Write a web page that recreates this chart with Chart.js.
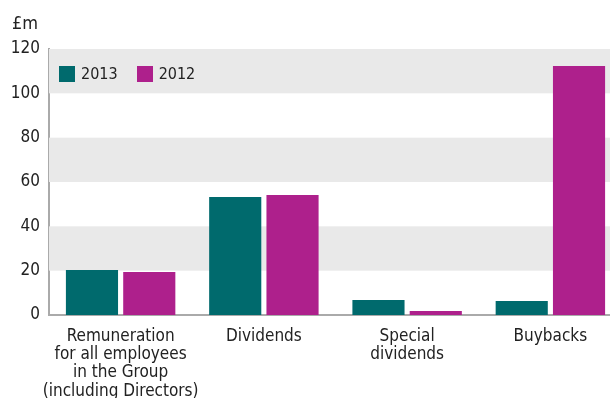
<!DOCTYPE html>
<html lang="en">
<head>
  <meta charset="UTF-8" />
  <title>Remuneration vs distributions</title>
  <script src="https://cdn.jsdelivr.net/npm/chart.js"></script>
  <style>
    body {
      margin: 0;
      background: #fff;
      overflow: hidden;
      font-family: 'DejaVu Sans Condensed', 'DejaVu Sans', sans-serif;
      color: #222;
    }
    .wrap {
      position: relative;
      width: 622px;
      height: 398px;
    }
    .unit {
      position: absolute;
      left: 12px;
      top: 12px;
      font-size: 18px;
    }
    .legend {
      position: absolute;
      left: 59px;
      top: 64px;
      display: flex;
      align-items: center;
      font-size: 16px;
    }
    .legend span.box {
      display: inline-block;
      width: 16px;
      height: 16px;
      margin-right: 6px;
    }
    .legend .item {
      display: flex;
      align-items: center;
      margin-right: 19px;
    }
  </style>
</head>
<body>
  <div class="wrap">
    <canvas id="chart" width="622" height="398"></canvas>
    <div class="unit">£m</div>
    <div class="legend" id="legend"></div>
  </div>

  <script>
    // data
    const categories = [
      ['Remuneration', 'for all employees', 'in the Group', '(including Directors)'],
      'Dividends',
      ['Special', 'dividends'],
      'Buybacks'
    ];
    const values2013 = [20.3, 53.2, 6.8, 6.3];
    const values2012 = [19.4, 54.1, 1.8, 112.3];
    const yTicks = [0, 20, 40, 60, 80, 100, 120];
    const shadedBands = [[20, 40], [60, 80], [100, 120]];

    const teal = '#006a6d';
    const magenta = '#ae208c';

    // grey stripes behind the bars
    const bandPlugin = {
      id: 'bands',
      beforeDatasetsDraw(chart) {
        const { ctx, chartArea, scales } = chart;
        ctx.save();
        ctx.fillStyle = '#e9e9e9';
        shadedBands.forEach(([lo, hi]) => {
          const top = scales.y.getPixelForValue(hi);
          const bottom = scales.y.getPixelForValue(lo);
          ctx.fillRect(chartArea.left, top, chartArea.right - chartArea.left, bottom - top);
        });
        ctx.restore();
      }
    };

    const fontFamily = "'DejaVu Sans Condensed', 'DejaVu Sans', sans-serif";

    const chart = new Chart(document.getElementById('chart'), {
      type: 'bar',
      data: {
        labels: categories,
        datasets: [
          { label: '2013', data: values2013, backgroundColor: teal },
          { label: '2012', data: values2012, backgroundColor: magenta }
        ]
      },
      options: {
        responsive: false,
        animation: false,
        layout: { padding: { top: 49, right: 0, left: 0, bottom: 0 } },
        datasets: { bar: { categoryPercentage: 0.8, barPercentage: 0.91 } },
        plugins: {
          legend: { display: false },
          tooltip: { enabled: false }
        },
        scales: {
          x: {
            grid: { display: false },
            border: { color: '#aaaaaa', width: 2 },
            ticks: {
              color: '#222',
              font: { family: fontFamily, size: 17, lineHeight: 1.08 },
              padding: 4,
              maxRotation: 0,
              autoSkip: false
            },
            afterFit(scale) { scale.height = 83; }
          },
          y: {
            min: 0,
            max: 120,
            grid: { display: false },
            border: { color: '#aaaaaa', width: 2 },
            afterBuildTicks(scale) { scale.ticks = yTicks.map(v => ({ value: v })); },
            ticks: { color: '#222', font: { family: fontFamily, size: 17 }, padding: 1 },
            afterFit(scale) { scale.width = 49; }
          }
        }
      },
      plugins: [bandPlugin]
    });

    // legend inside the plot
    const legend = document.getElementById('legend');
    chart.data.datasets.forEach(ds => {
      const item = document.createElement('div');
      item.className = 'item';
      item.innerHTML = `<span class="box" style="background:${ds.backgroundColor}"></span>${ds.label}`;
      legend.appendChild(item);
    });
  </script>
</body>
</html>
